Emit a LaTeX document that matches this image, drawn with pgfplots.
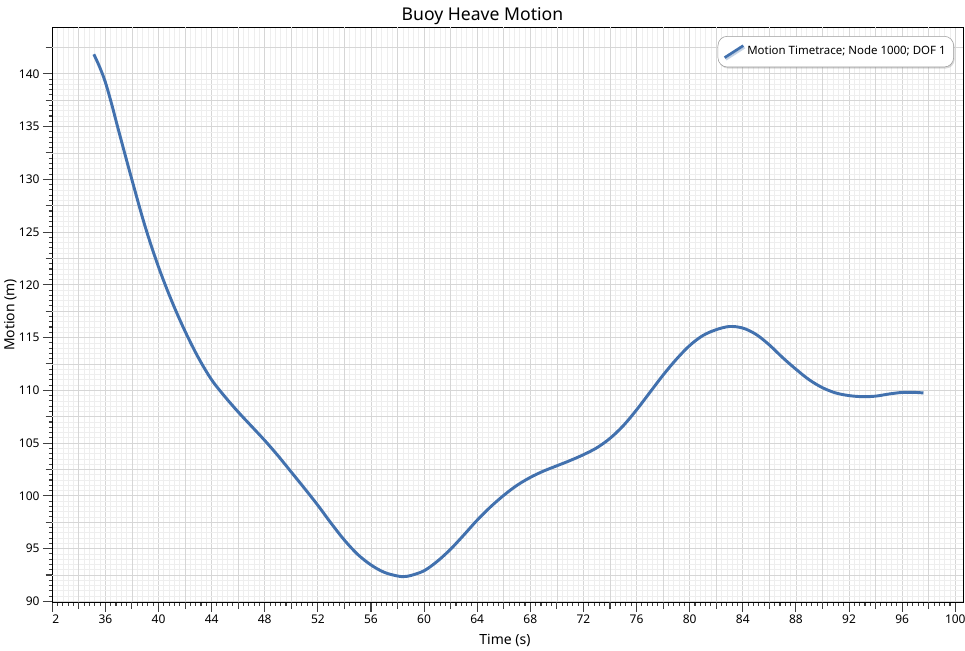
\documentclass[border=0pt]{standalone}
\usepackage{pgfplots}
\pgfplotsset{compat=1.18}
\usepackage{fontspec}
\setmainfont{Noto Sans}
\usetikzlibrary{shadows}
\definecolor{lineblue}{RGB}{66,113,174}
\definecolor{majgrid}{RGB}{214,214,214}
\definecolor{mingrid}{RGB}{238,238,238}
\begin{document}
\begin{tikzpicture}
\path[use as bounding box] (-39.2pt,-35.8pt) rectangle (684.55pt,451.8pt);
\begin{axis}[
  at={(0,0)}, anchor=south west,
  scale only axis, width=683.25pt, height=431.25pt,
  xmin=32, xmax=100.6, ymin=89.9, ymax=144.4,
  axis line style={black, line width=0.8pt},
  xtick={32,36,...,100},
  xticklabels={\phantom{3}2,36,40,44,48,52,56,60,64,68,72,76,80,84,88,92,96,100},
  ytick={90,95,...,140},
  minor x tick num=9, minor y tick num=9,
  extra x ticks={34,38,42,46,50,54,58,62,66,70,74,78,82,86,90,94,98},
  extra x tick labels={},
  extra y ticks={92.5,97.5,102.5,107.5,112.5,117.5,122.5,127.5,132.5,137.5,142.5},
  extra y tick labels={},
  extra x tick style={major tick length=5pt, major grid style={majgrid, line width=0.6pt}},
  extra y tick style={major tick length=5pt, major grid style={majgrid, line width=0.6pt}},
  grid=both,
  major grid style={majgrid, line width=0.6pt},
  minor grid style={mingrid, line width=0.5pt},
  tick align=outside,
  xtick pos=bottom, ytick pos=left,
  major tick length=7pt, minor tick length=2.5pt,
  tick style={black!75, line width=0.8pt},
  /pgf/number format/assume math mode=true,
  ticklabel style={font=\fontsize{9}{10}\selectfont, black},
  xticklabel style={yshift=1pt},
  yticklabel style={xshift=1pt},
  every axis title shift=0pt,
  title={Buoy Heave Motion},
  title style={font=\fontsize{13.2}{15}\selectfont, at={(axis description cs:0.4722,1.0127)}, anchor=base, yshift=0pt},
  xlabel={Time (s)},
  xlabel style={font=\fontsize{10.5}{12}\selectfont, at={(axis description cs:0.497,-0.074)}, anchor=base},
  ylabel={Motion (m)},
  ylabel style={font=\fontsize{10.5}{12}\selectfont, at={(axis description cs:-0.0415,0.5)}, anchor=base},
  legend style={at={(axis description cs:0.9897,0.9850)}, anchor=north east,
    draw=black!40, fill=white, rounded corners=7pt,
    drop shadow={opacity=0.3, shadow xshift=0.8pt, shadow yshift=-1.2pt},
    font=\fontsize{8.6}{10}\selectfont, inner xsep=4pt, inner ysep=5.5pt,
    /tikz/every even column/.append style={column sep=1pt}},
  legend cell align=left,
  legend image code/.code={\draw[lineblue, line width=2pt] (0pt,-4.5pt) -- (14pt,4.5pt);},
]
\addplot[lineblue, line width=2.2pt, smooth, tension=0.55] coordinates {
(35.13,141.85) (35.55,140.7) (36,139.2) (36.5,137.0) (37,134.6) (38,129.95)
(39,125.5) (40,121.7) (41,118.45) (42,115.6) (43,113.1) (44,111.0)
(45,109.4) (46,107.95) (47,106.6) (48,105.25) (49,103.8) (50,102.25)
(51,100.7) (52,99.1) (53,97.4) (54,95.8) (55,94.45) (56,93.45)
(57,92.75) (58,92.4) (58.5,92.35) (59,92.45) (60,92.9) (61,93.8)
(62,94.95) (63,96.3) (64,97.7) (65,98.95) (66,100.05) (67,101.0)
(68,101.75) (69,102.35) (70,102.85) (71,103.35) (72,103.9) (73,104.55)
(74,105.45) (75,106.65) (76,108.15) (77,109.8) (78,111.45) (79,112.95)
(80,114.25) (81,115.2) (82,115.75) (83,116.05) (84,115.9) (85,115.3)
(86,114.3) (87,113.1) (88,112.0) (89,111.0) (90,110.25) (91,109.75)
(92,109.5) (93,109.4) (94,109.45) (95,109.65) (96,109.8) (97,109.8)
(97.6,109.75)
};
\addlegendentry{Motion Timetrace; Node 1000; DOF 1}
\end{axis}
\end{tikzpicture}
\end{document}
